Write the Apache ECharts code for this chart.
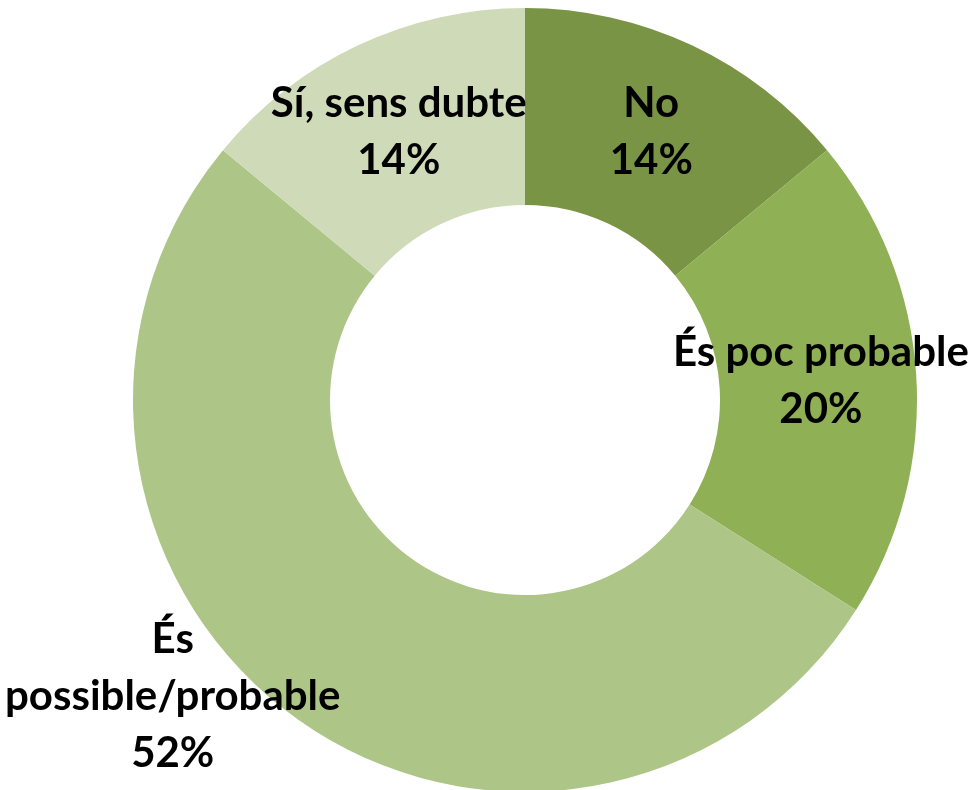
<!DOCTYPE html>
<html>
<head>
<meta charset="utf-8">
<script src="https://cdn.jsdelivr.net/npm/echarts@6/dist/echarts.min.js"></script>
<style>
  html, body { margin: 0; padding: 0; background: #fff; }
  #chart { width: 978px; height: 790px; }
</style>
</head>
<body>
<div id="chart"></div>
<script>
// categories, values, colours
var categories = ['No', 'És poc probable', 'És\npossible/probable', 'Sí, sens dubte'];
var values = [14, 20, 52, 14];
var colors = ['#7a9446', '#8fb054', '#adc687', '#cfdbb8'];

var chart = echarts.init(document.getElementById('chart'));

var data = categories.map(function (name, i) {
  var item = { name: name, value: values[i], itemStyle: { color: colors[i] } };
  // the big slice has its label pushed out to the lower left
  if (i === 2) {
    item.label = { offset: [-178, 57] };
  }
  return item;
});

var option = {
  animation: false,
  series: [{
    type: 'pie',
    center: [525, 400],
    radius: [195, 392],
    startAngle: 90,
    clockwise: true,
    avoidLabelOverlap: false,
    label: {
      show: true,
      position: 'inside',
      formatter: '{b}\n{d}%',
      color: '#000',
      fontFamily: 'Lato',
      fontWeight: 'bold',
      fontSize: 42,
      lineHeight: 57,
      align: 'center'
    },
    labelLine: { show: false },
    data: data
  }]
};

chart.setOption(option);
</script>
</body>
</html>
